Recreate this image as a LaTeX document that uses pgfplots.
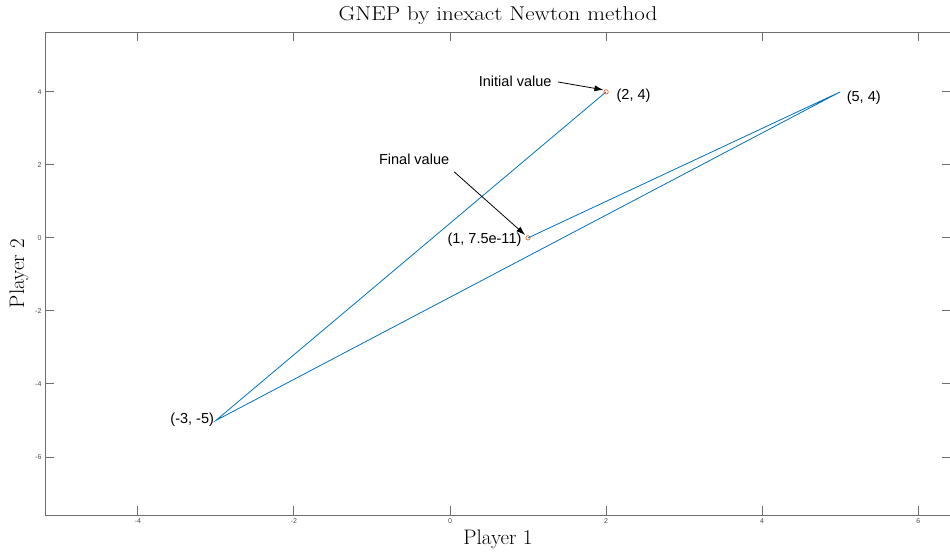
\documentclass[border=0pt]{standalone}
\usepackage{fontspec}
\usepackage{pgfplots}
\pgfplotsset{compat=1.18}
\usetikzlibrary{arrows.meta}
\newfontfamily\arialfont{Liberation Sans}
\definecolor{mblue}{rgb}{0,0.447,0.741}
\definecolor{morange}{rgb}{0.85,0.325,0.098}
\definecolor{axgray}{RGB}{110,110,110}
\begin{document}
\begin{tikzpicture}
\useasboundingbox (0,0) rectangle (950pt,554pt);
\begin{axis}[
 at={(45pt,39pt)}, anchor=south west,
 scale only axis, width=906pt, height=483pt,
 xmin=-5.19, xmax=6.42, ymin=-7.59, ymax=5.64,
 xtick={-4,-2,0,2,4,6}, ytick={-6,-4,-2,0,2,4},
 tick align=inside, major tick length=9pt,
 axis line style={axgray, line width=0.9pt},
 every tick/.style={axgray, line width=0.9pt},
 ticklabel style={font=\arialfont\fontsize{7}{8}\selectfont, text=black!70},
 /pgf/number format/assume math mode=true,
 title={GNEP by inexact Newton method},
 title style={font=\fontsize{20}{24}\selectfont, xscale=1.15, yshift=-2pt},
 xlabel={Player 1}, ylabel={Player 2},
 label style={font=\fontsize{21}{25}\selectfont},
 clip=false,
]
\addplot[mblue, line width=0.8pt] coordinates {(2,4) (-3,-5) (5,4) (1,7.5e-11)};
\addplot[only marks, mark=o, mark size=2.2pt, morange, line width=0.6pt] coordinates {(2,4) (1,7.5e-11)};
\node[font=\arialfont\fontsize{14.5}{17}\selectfont, anchor=west] at (axis cs:2.09,3.89) {(2, 4)};
\node[font=\arialfont\fontsize{14.5}{17}\selectfont, anchor=west] at (axis cs:5.04,3.84) {(5, 4)};
\node[font=\arialfont\fontsize{14.5}{17}\selectfont, anchor=east] at (axis cs:-2.98,-4.99) {(-3, -5)};
\node[font=\arialfont\fontsize{14.5}{17}\selectfont, anchor=east] at (axis cs:0.96,-0.055) {(1, 7.5e-11)};
\node[font=\arialfont\fontsize{14.5}{17}\selectfont] at (axis cs:0.835,4.30) {Initial value};
\node[font=\arialfont\fontsize{14.5}{17}\selectfont] at (axis cs:-0.46,2.14) {Final value};
\draw[black, line width=0.8pt, -{Latex[length=9pt,width=6pt]}] (axis cs:1.386,4.27) -- (axis cs:1.966,4.055);
\draw[black, line width=0.8pt, -{Latex[length=9pt,width=6pt]}] (axis cs:0.053,1.81) -- (axis cs:0.963,0.08);
\end{axis}
\end{tikzpicture}
\end{document}
